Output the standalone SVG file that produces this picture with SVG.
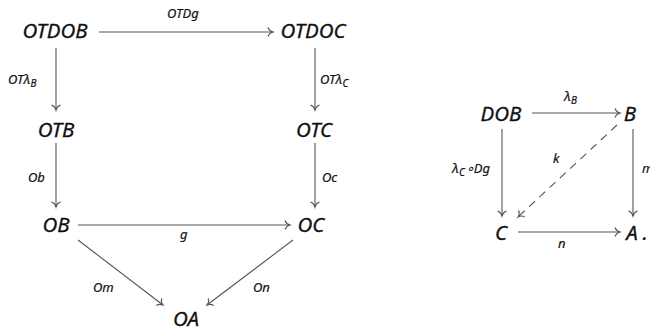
<svg xmlns="http://www.w3.org/2000/svg" width="650" height="331" viewBox="0 0 650 331">
<style>
.n{font-family:"Noto Sans","Open Sans",sans-serif;font-style:italic;font-size:20.5px;fill:#111;stroke:#111;stroke-width:0.3;text-anchor:middle}
.l{font-family:"Noto Sans","Open Sans",sans-serif;font-style:italic;font-size:13px;fill:#111;stroke:#111;stroke-width:0.2}
.sub{font-size:10px}
.e{stroke:#555;stroke-width:1.1;fill:none;marker-end:url(#h)}
.d{stroke-dasharray:8 6}
</style>
<defs>
<marker id="h" markerUnits="userSpaceOnUse" viewBox="-7 -6 8 12" refX="0" refY="0" markerWidth="8" markerHeight="12" orient="auto" overflow="visible">
<path d="M-5,-4.5 C-4,-1.5 -1.5,-0.4 0,0 C-1.5,0.4 -4,1.5 -5,4.5" fill="none" stroke="#555" stroke-width="1.1"/>
</marker>
</defs>
<rect width="650" height="331" fill="#fff"/>
<g id="connectors">
<line class="e" x1="99" y1="32" x2="273" y2="32"/>
<line class="e" x1="56" y1="48" x2="56" y2="110"/>
<line class="e" x1="315" y1="48" x2="315" y2="110"/>
<line class="e" x1="56" y1="143" x2="56" y2="207"/>
<line class="e" x1="315" y1="143" x2="315" y2="207"/>
<line class="e" x1="78" y1="225" x2="290" y2="225"/>
<line class="e" x1="78" y1="240" x2="163" y2="305"/>
<line class="e" x1="293" y1="240" x2="207" y2="305"/>
<line class="e" x1="532" y1="113" x2="620" y2="113"/>
<line class="e" x1="502" y1="129" x2="502" y2="216"/>
<line class="e" x1="633" y1="129" x2="633" y2="216"/>
<line class="e" x1="518" y1="232" x2="620" y2="232"/>
<line class="e d" x1="617" y1="125" x2="518" y2="217"/>
</g>
<g id="labels">
<text class="l" x="167" y="18">OTDg</text>
<text class="l" x="8" y="84">OTλ<tspan class="sub" dy="3">B</tspan></text>
<text class="l" x="320" y="84">OTλ<tspan class="sub" dy="3">C</tspan></text>
<text class="l" x="28" y="182">Ob</text>
<text class="l" x="322" y="182">Oc</text>
<text class="l" x="180" y="239">g</text>
<text class="l" x="93" y="292">Om</text>
<text class="l" x="253" y="292">On</text>
<text class="l" x="564" y="101">λ<tspan class="sub" dy="3">B</tspan></text>
<text class="l" x="452" y="173">λ<tspan class="sub" dy="3">C</tspan><tspan dx="1" dy="-3">∘Dg</tspan></text>
<text class="l" x="553" y="163">k</text>
<text class="l" x="642" y="173">m</text>
<text class="l" x="558" y="248">n</text>
</g>
<g id="OTDOB"><text class="n" x="55" y="38">OTDOB</text></g>
<g id="OTDOC"><text class="n" x="313" y="38">OTDOC</text></g>
<g id="OTB"><text class="n" x="56" y="137">OTB</text></g>
<g id="OTC"><text class="n" x="314" y="137">OTC</text></g>
<g id="OB"><text class="n" x="56" y="232">OB</text></g>
<g id="OC"><text class="n" x="311" y="232">OC</text></g>
<g id="OA"><text class="n" x="186" y="326">OA</text></g>
<g id="DOB"><text class="n" x="501" y="121">DOB</text></g>
<g id="B"><text class="n" x="630" y="121">B</text></g>
<g id="C"><text class="n" x="501" y="240">C</text></g>
<g id="A"><text class="n" x="632" y="240">A</text><text class="n" x="645" y="240">.</text></g>
</svg>
